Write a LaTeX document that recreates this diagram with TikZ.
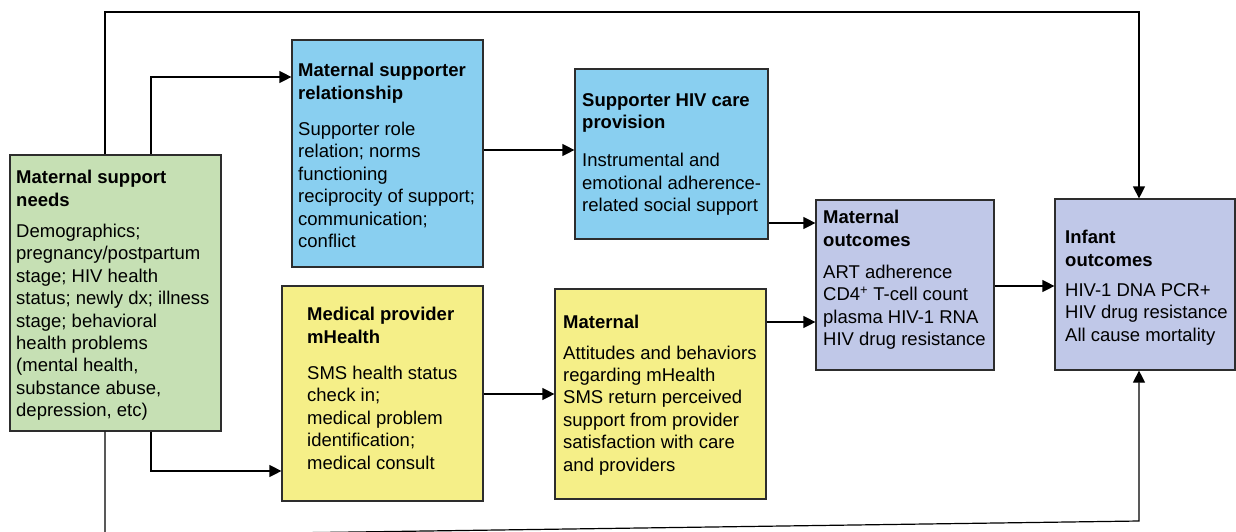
\documentclass[tikz,border=0pt]{standalone}
\usepackage{fontspec}
\setmainfont{Liberation Sans}
\usetikzlibrary{arrows.meta}
\definecolor{bgreen}{RGB}{198,224,180}
\definecolor{bblue}{RGB}{137,207,240}
\definecolor{blav}{RGB}{192,200,232}
\definecolor{byel}{RGB}{245,239,136}
\definecolor{bline}{RGB}{45,45,45}
\begin{document}
\begin{tikzpicture}[x=1pt,y=-1pt,
  box/.style={draw=bline, line width=1.2pt, rectangle, inner sep=0pt},
  txt/.style={anchor=north west, align=left, inner sep=0pt, font=\fontsize{18.5}{22.4}\selectfont},
  conn/.style={line width=1.2pt, draw=black, -{Triangle[length=12pt,width=12pt]}}]
\useasboundingbox (0,0) rectangle (1236,531);
\clip (0,0) rectangle (1236,531);
\fill[white] (0,0) rectangle (1236,531);
% boxes
\node[box, fill=bgreen, minimum width=211pt, minimum height=276pt] (needs) at (115.5,293) {};
\node[box, fill=bblue, minimum width=191pt, minimum height=227pt] (msr) at (387.5,153.5) {};
\node[box, fill=bblue, minimum width=193pt, minimum height=170pt] (shc) at (671.5,154) {};
\node[box, fill=blav, minimum width=178pt, minimum height=170pt] (mo) at (905,285) {};
\node[box, fill=blav, minimum width=180pt, minimum height=171pt] (infant) at (1145,284.5) {};
\node[box, fill=byel, minimum width=201pt, minimum height=215pt] (mp) at (382.5,393.5) {};
\node[box, fill=byel, minimum width=211pt, minimum height=210pt] (mat) at (660.5,394) {};
% texts
\node[txt] (needs-t) at (16,170) {\textbf{Maternal support}\\\textbf{needs}\\[9pt]Demographics;\\pregnancy/postpartum\\stage; HIV health\\status; newly dx; illness\\stage; behavioral\\health problems\\(mental health,\\substance abuse,\\depression, etc)};
\node[txt] (msr-t) at (298,63) {\textbf{Maternal supporter}\\\textbf{relationship}\\[14pt]Supporter role\\relation; norms\\functioning\\reciprocity of support;\\communication;\\conflict};
\node[txt] (shc-t) at (582,93) {\textbf{Supporter HIV care}\\\textbf{provision}\\[16pt]Instrumental and\\emotional adherence-\\related social support};
\node[txt] (mo-t) at (823,210) {\textbf{Maternal}\\\textbf{outcomes}\\[10pt]ART adherence\\CD4\textsuperscript{+} T-cell count\\plasma HIV-1 RNA\\HIV drug resistance};
\node[txt] (infant-t) at (1065,230) {\textbf{Infant}\\\textbf{outcomes}\\[8pt]HIV-1 DNA PCR+\\HIV drug resistance\\All cause mortality};
\node[txt] (mp-t) at (307,307) {\textbf{Medical provider}\\\textbf{mHealth}\\[14pt]SMS health status\\check in;\\medical problem\\identification;\\medical consult};
\node[txt] (mat-t) at (563,315) {\textbf{Maternal}\\[8pt]Attitudes and behaviors\\regarding mHealth\\SMS return perceived\\support from provider\\satisfaction with care\\and providers};
% helper coordinates
\coordinate (x105) at (105,0);
\coordinate (x151) at (151,0);
\coordinate (x1139) at (1139,0);
\coordinate (top1) at (105,12);
\coordinate (top2) at (1139,12);
\coordinate (bot1) at (105,535.5);
\coordinate (bot2) at (1139,521);
\coordinate (y77) at (0,77);
\coordinate (y150) at (0,150);
\coordinate (y223) at (0,223);
\coordinate (y286) at (0,286);
\coordinate (y322) at (0,322);
\coordinate (y394) at (0,394);
\coordinate (y471) at (0,471);
% connectors
\draw[conn] (needs.north -| x105) -- (top1) -- (top2) -- (infant.north -| x1139);
\draw[conn] (needs.north -| x151) |- (msr.west |- y77);
\draw[conn] (needs.south -| x151) |- (mp.west |- y471);
\draw[conn] (msr.east |- y150) -- (shc.west |- y150);
\draw[conn] (shc.east |- y223) -- (mo.west |- y223);
\draw[conn] (mp.east |- y394) -- (mat.west |- y394);
\draw[conn] (mat.east |- y322) -- (mo.west |- y322);
\draw[conn] (mo.east |- y286) -- (infant.west |- y286);
\draw[conn] (needs.south -| x105) -- (bot1) -- (bot2) -- (infant.south -| x1139);
\end{tikzpicture}
\end{document}
